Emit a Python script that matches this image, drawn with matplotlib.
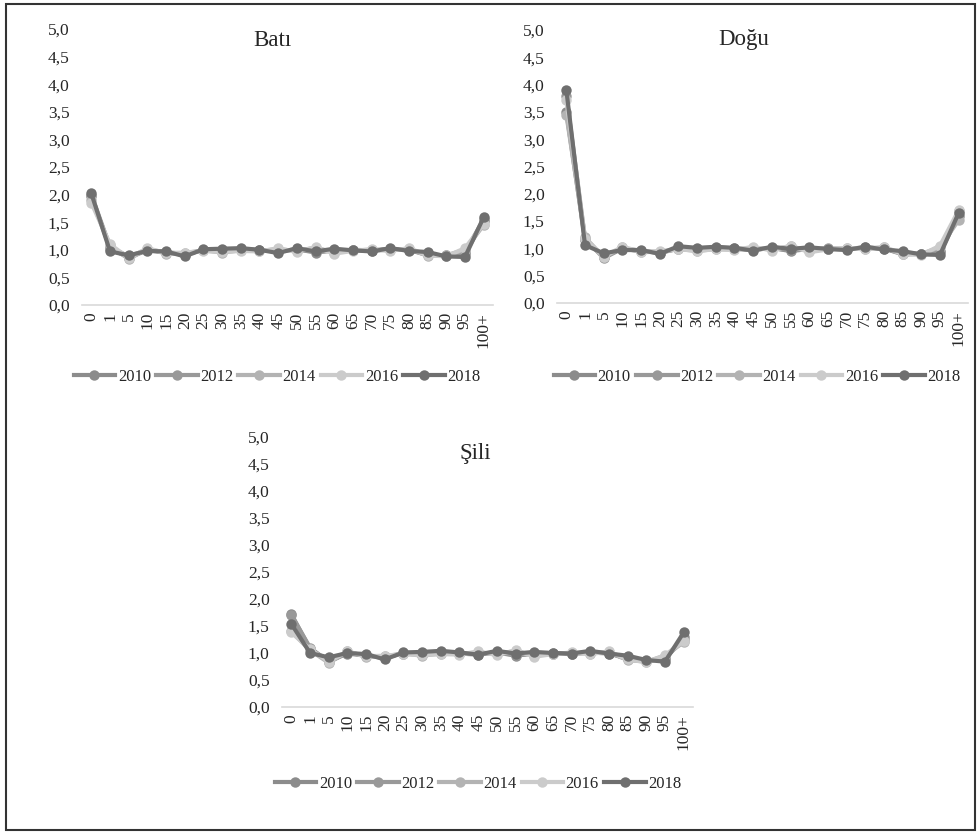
import matplotlib
matplotlib.use("Agg")
import matplotlib.pyplot as plt
from matplotlib.patches import Rectangle
from matplotlib.lines import Line2D

plt.rcParams['font.family'] = ['Liberation Serif', 'DejaVu Serif']

categories = ["0", "1", "5", "10", "15", "20", "25", "30", "35", "40", "45", "50",
              "55", "60", "65", "70", "75", "80", "85", "90", "95", "100+"]
years = ["2010", "2012", "2014", "2016", "2018"]
colors = ["#8c8c8c", "#999999", "#b3b3b3", "#cbcbcb", "#6f6f6f"]
yticks = [0.0, 0.5, 1.0, 1.5, 2.0, 2.5, 3.0, 3.5, 4.0, 4.5, 5.0]

bati_2010 = [1.98, 1.02, 0.86, 0.99, 0.95, 0.91, 1.00, 0.97, 1.00, 0.99, 0.97, 1.01, 0.95, 0.99, 0.99, 0.98, 1.01, 0.99, 0.92, 0.89, 0.93, 1.52]
bati_2012 = [2.00, 1.05, 0.88, 1.00, 0.96, 0.92, 0.99, 0.98, 1.01, 1.00, 0.98, 1.00, 0.97, 0.98, 1.00, 0.99, 1.02, 1.00, 0.90, 0.90, 0.96, 1.55]
bati_2014 = [1.90, 1.08, 0.83, 1.02, 0.93, 0.94, 0.99, 0.95, 0.99, 0.98, 1.01, 0.98, 1.04, 0.95, 0.99, 1.00, 0.99, 1.02, 0.89, 0.90, 1.00, 1.45]
bati_2016 = [1.85, 1.10, 0.85, 1.03, 0.94, 0.95, 0.98, 0.96, 0.98, 0.97, 1.03, 0.96, 1.05, 0.93, 0.98, 1.01, 0.98, 1.03, 0.90, 0.88, 1.03, 1.47]
bati_2018 = [2.02, 0.97, 0.90, 0.98, 0.97, 0.88, 1.01, 1.02, 1.03, 1.00, 0.94, 1.03, 0.97, 1.02, 0.99, 0.97, 1.03, 0.98, 0.96, 0.88, 0.87, 1.59]

dogu_2010 = [3.50, 1.15, 0.85, 0.99, 0.95, 0.92, 1.00, 0.97, 1.00, 0.99, 0.97, 1.01, 0.95, 0.99, 0.99, 0.98, 1.01, 0.99, 0.91, 0.90, 0.93, 1.60]
dogu_2012 = [3.80, 1.18, 0.82, 1.00, 0.96, 0.92, 0.99, 0.98, 1.01, 1.00, 0.98, 1.00, 0.97, 0.98, 1.00, 0.99, 1.02, 1.00, 0.89, 0.90, 0.96, 1.68]
dogu_2014 = [3.45, 1.20, 0.84, 1.02, 0.93, 0.94, 0.99, 0.95, 0.99, 0.98, 1.01, 0.98, 1.04, 0.95, 0.99, 1.00, 0.99, 1.02, 0.89, 0.90, 1.02, 1.52]
dogu_2016 = [3.72, 1.17, 0.85, 1.03, 0.94, 0.95, 0.98, 0.96, 0.98, 0.97, 1.03, 0.96, 1.05, 0.93, 0.98, 1.01, 0.98, 1.03, 0.90, 0.88, 1.05, 1.70]
dogu_2018 = [3.90, 1.06, 0.91, 0.97, 0.97, 0.90, 1.04, 1.01, 1.03, 1.01, 0.96, 1.03, 0.99, 1.02, 0.99, 0.97, 1.03, 0.98, 0.95, 0.89, 0.88, 1.65]

sili_2010 = [1.72, 1.08, 0.85, 0.99, 0.95, 0.91, 1.00, 0.97, 1.00, 0.99, 0.97, 1.01, 0.95, 0.99, 0.99, 0.98, 1.01, 0.99, 0.90, 0.86, 0.88, 1.30]
sili_2012 = [1.70, 1.10, 0.83, 1.00, 0.96, 0.92, 0.99, 0.98, 1.01, 1.00, 0.98, 1.00, 0.97, 0.98, 1.00, 0.99, 1.02, 1.00, 0.88, 0.85, 0.90, 1.25]
sili_2014 = [1.40, 1.05, 0.82, 1.03, 0.93, 0.94, 0.99, 0.95, 0.99, 0.98, 1.01, 0.98, 1.04, 0.95, 0.99, 1.00, 0.99, 1.02, 0.87, 0.84, 0.95, 1.20]
sili_2016 = [1.38, 1.07, 0.84, 1.03, 0.94, 0.95, 0.98, 0.96, 0.98, 0.97, 1.03, 0.96, 1.05, 0.93, 0.98, 1.01, 0.98, 1.03, 0.88, 0.83, 0.96, 1.22]
sili_2018 = [1.54, 1.00, 0.92, 1.00, 0.98, 0.88, 1.01, 1.02, 1.04, 1.01, 0.97, 1.04, 0.99, 1.02, 1.00, 0.99, 1.04, 0.99, 0.95, 0.87, 0.84, 1.38]

panels = [
    ("Batı", [bati_2010, bati_2012, bati_2014, bati_2016, bati_2018]),
    ("Doğu", [dogu_2010, dogu_2012, dogu_2014, dogu_2016, dogu_2018]),
    ("Şili", [sili_2010, sili_2012, sili_2014, sili_2016, sili_2018]),
]

W, H = 980, 835
fig = plt.figure(figsize=(W / 100, H / 100), dpi=100)

# axes boxes in pixels: (left, top, right, bottom)
boxes = [(82, 29, 493, 305), (557, 30, 968, 303), (282, 437, 693, 707)]
title_pos = [(272, 40), (744, 40), (475, 453)]
legend_pos = [(277, 377), (757, 377), (478, 784)]

text_color = "#262626"

for (title, series), box, tpos, lpos in zip(panels, boxes, title_pos, legend_pos):
    l, t, r, b = box
    ax = fig.add_axes([l / W, 1 - b / H, (r - l) / W, (b - t) / H])
    x = list(range(len(categories)))
    for yr, col, vals in zip(years, colors, series):
        ax.plot(x, vals, color=col, lw=3.0, marker='o', markersize=7.5,
                markeredgewidth=0, clip_on=False, solid_joinstyle='round', label=yr)
    ax.set_xlim(-0.5, len(categories) - 0.5)
    ax.set_ylim(0, 5)
    ax.set_yticks(yticks)
    ax.set_yticklabels([f"{v:.1f}".replace('.', ',') for v in yticks],
                       fontsize=12.5, color=text_color)
    ax.set_xticks(x)
    ax.set_xticklabels(categories, rotation=90, fontsize=12.5, color=text_color)
    ax.tick_params(axis='both', length=0)
    ax.tick_params(axis='y', pad=9)
    ax.tick_params(axis='x', pad=5)
    for s in ['top', 'right', 'left']:
        ax.spines[s].set_visible(False)
    ax.spines['bottom'].set_color('#d9d9d9')
    ax.spines['bottom'].set_linewidth(1.2)
    fig.text(tpos[0] / W, 1 - tpos[1] / H, title, fontsize=16.5, color=text_color,
             ha='center', va='center')
    handles = [Line2D([0], [0], color=c, lw=3.0, marker='o', markersize=7.5,
                      markeredgewidth=0) for c in colors]
    fig.legend(handles, years, loc='center', bbox_to_anchor=(lpos[0] / W, 1 - lpos[1] / H),
               ncol=5, frameon=False, fontsize=12, handlelength=2.5,
               handletextpad=0.15, columnspacing=0.3, labelcolor=text_color)

fig.patches.append(Rectangle((6 / W, 1 - 830 / H), 969 / W, 826 / H,
                             transform=fig.transFigure, fill=False,
                             edgecolor='#333333', lw=1.5))

fig.savefig("out.png", dpi=100)
